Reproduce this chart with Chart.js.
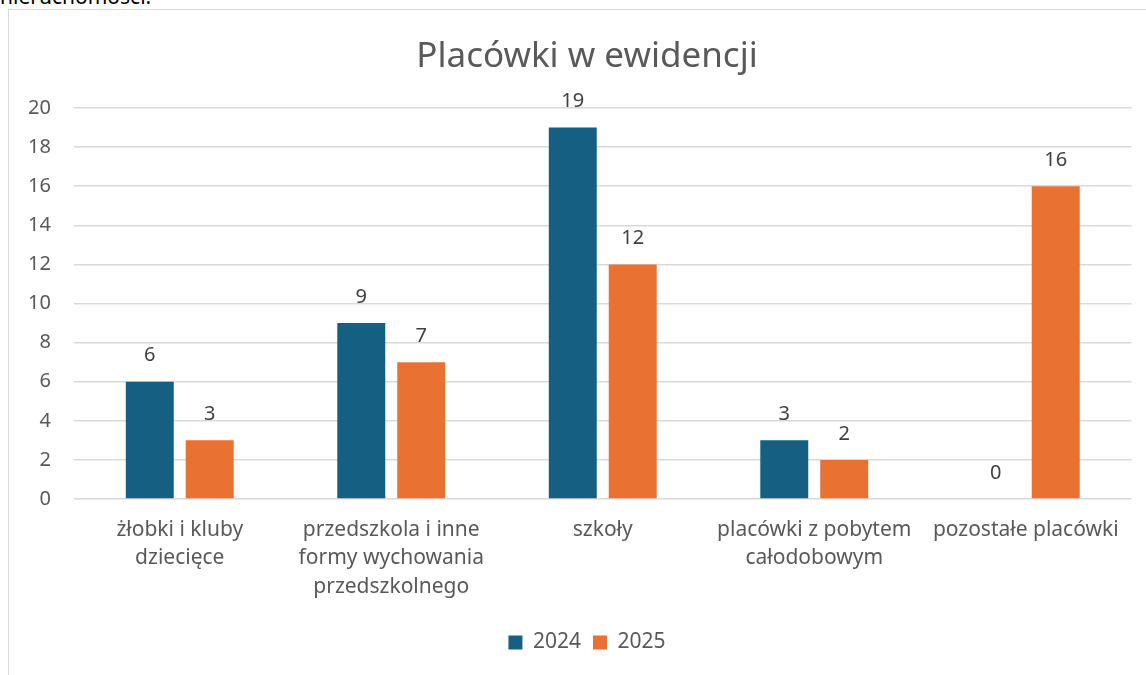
<!DOCTYPE html>
<html>
<head>
<meta charset="utf-8">
<script src="https://cdn.jsdelivr.net/npm/chart.js@4"></script>
<style>
  html, body { margin: 0; padding: 0; background: #fff; }
  body { width: 1146px; height: 675px; position: relative; overflow: hidden; }
  #topText { position: absolute; left: 0; top: -14px; font: 21px "Noto Sans", sans-serif; line-height: 21px; color: #000; }
  #frame { position: absolute; left: 8px; top: 9px; width: 1200px; height: 700px; border-left: 1px solid #d9d9d9; border-top: 1px solid #d9d9d9; }
  #chart { position: absolute; left: 0; top: 0; }
</style>
</head>
<body>
<div id="topText">nieruchomości.</div>
<div id="frame"></div>
<!-- canvas is wider than the window: the chart frame runs past the right edge -->
<canvas id="chart" width="1174" height="675"></canvas>
<script>
// Chart data
const categories = [
  ["żłobki i kluby", "dziecięce"],
  ["przedszkola i inne", "formy wychowania", "przedszkolnego"],
  "szkoły",
  ["placówki z pobytem", "całodobowym"],
  "pozostałe placówki",
];
const values2024 = [6, 9, 19, 3, 0];
const values2025 = [3, 7, 12, 2, 16];
const yTicks = [0, 2, 4, 6, 8, 10, 12, 14, 16, 18, 20];

const fontFamily = '"Noto Sans", sans-serif';

// Draws the value above every bar
const valueLabels = {
  id: "valueLabels",
  afterDatasetsDraw(chart) {
    const ctx = chart.ctx;
    ctx.save();
    ctx.font = "20px " + fontFamily;
    ctx.fillStyle = "#404040";
    ctx.textAlign = "center";
    ctx.textBaseline = "middle";
    chart.data.datasets.forEach((ds, i) => {
      chart.getDatasetMeta(i).data.forEach((bar, j) => {
        ctx.fillText(String(ds.data[j]), bar.x, bar.y - 26);
      });
    });
    ctx.restore();
  },
};

new Chart(document.getElementById("chart").getContext("2d"), {
  type: "bar",
  data: {
    labels: categories,
    datasets: [
      { label: "2024", data: values2024, backgroundColor: "#156082" },
      { label: "2025", data: values2025, backgroundColor: "#E97132" },
    ],
  },
  options: {
    responsive: false,
    animation: false,
    events: [],
    datasets: {
      bar: { categoryPercentage: 0.567, barPercentage: 0.8 },
    },
    layout: { padding: { left: 0, right: 0, top: 0, bottom: 12 } },
    plugins: {
      title: {
        display: true,
        text: "Placówki w ewidencji",
        color: "#595959",
        font: { family: fontFamily, size: 35, weight: "normal" },
        padding: { top: 36.5, bottom: 29.5 },
      },
      legend: {
        position: "bottom",
        labels: {
          color: "#595959",
          font: { family: fontFamily, size: 21 },
          boxWidth: 14,
          boxHeight: 14,
          padding: 12,
        },
      },
      tooltip: { enabled: false },
    },
    scales: {
      x: {
        grid: { display: false, drawTicks: false },
        border: { display: false },
        ticks: {
          color: "#595959",
          font: { family: fontFamily, size: 21, lineHeight: 1.36 },
          padding: 16.5,
          maxRotation: 0,
          autoSkip: false,
        },
        afterFit(scale) { scale.height = 121; },
      },
      y: {
        min: 0,
        max: 20,
        afterBuildTicks(scale) { scale.ticks = yTicks.map(v => ({ value: v })); },
        grid: { color: "#d9d9d9", lineWidth: 1.5, drawTicks: false },
        border: { display: false },
        ticks: {
          color: "#595959",
          font: { family: fontFamily, size: 20 },
          padding: 23,
        },
        afterFit(scale) { scale.width = 74; },
      },
      // empty space on the right so title and legend stay centred on the frame
      yRight: {
        position: "right",
        grid: { display: false, drawTicks: false },
        border: { display: false },
        ticks: { display: false },
        afterFit(scale) { scale.width = 42.5; },
      },
    },
  },
  plugins: [valueLabels],
});
</script>
</body>
</html>
